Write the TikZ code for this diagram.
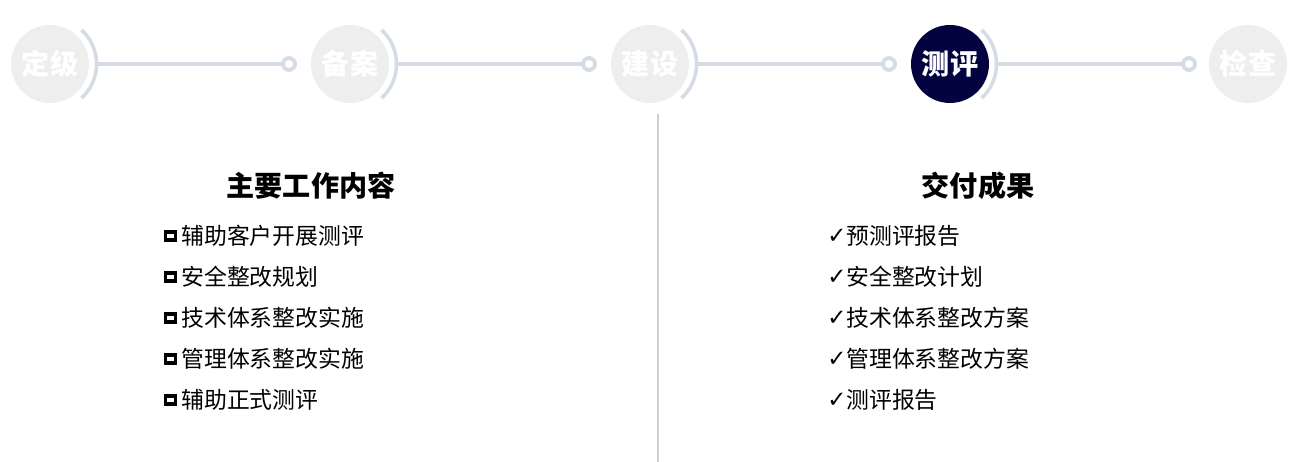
\documentclass[tikz,border=0pt]{standalone}
\usepackage{fontspec}
\newfontfamily\cjk{Noto Sans CJK SC}
\newfontfamily\symfont{DejaVu Sans}
\usepackage{xcolor}
\usetikzlibrary{positioning, calc}
\definecolor{stagegray}{HTML}{EEEEEE}
\definecolor{stagenavy}{HTML}{03033F}
\definecolor{trackblue}{HTML}{D6DCE5}
\definecolor{dividergray}{HTML}{CFCFCF}
\tikzset{
    % Stage circles
    stage/.style={circle, minimum size=1.56cm, inner sep=0pt, fill=stagegray,
                  text=white, font=\cjk\bfseries\fontsize{16}{16}\selectfont},
    current stage/.style={stage, fill=stagenavy},
    % Timeline styles
    stage arc/.style={draw=trackblue, line width=2pt},
    track/.style={draw=trackblue, line width=1.8pt},
    stop dot/.style={circle, draw=trackblue, fill=white, line width=2.2pt,
                     minimum size=0.24cm, inner sep=0pt},
    % Text styles
    heading/.style={font=\cjk\bfseries\fontsize{16}{18}\selectfont},
    item/.style={anchor=west, inner sep=0pt, font=\cjk\fontsize{13}{15}\selectfont},
    tick box/.style={rectangle, draw=black, line width=2.2pt, minimum width=0.2cm,
                     minimum height=0.16cm, inner sep=0pt},
    tick/.style={anchor=west, inner sep=0pt, font=\symfont\fontsize{13}{15}\selectfont},
    divider/.style={draw=dividergray, line width=0.6pt},
}

\begin{document}
\begin{tikzpicture}[x=0.02cm, y=0.02cm]
    \useasboundingbox (0,0) rectangle (1314,-462);

    % Stages along the top
    \foreach \i/\x/\name in {1/50/定级, 2/350/备案, 3/650/建设, 4/950/测评, 5/1248/检查} {
        \ifnum\i=4
            \node[current stage] (stage\i) at (\x,-64) {\name};
        \else
            \node[stage] (stage\i) at (\x,-64) {\name};
        \fi
    }

    % Arcs, tracks and stop dots
    \foreach \i in {1,...,4} {
        \draw[stage arc] ([shift={(-47:0.93cm)}]stage\i.center) arc[start angle=-47, end angle=47, radius=0.93cm];
        \coordinate (arc\i) at ([xshift=0.93cm]stage\i.center);
        \node[stop dot] (dot\i) at ($(stage\i.center)+(239,0)$) {};
        \draw[track] (arc\i) -- (dot\i);
    }

    % Divider
    \coordinate (divtop) at (658,-114);
    \coordinate (divbot) at (658,-462);
    \draw[divider] (divtop) -- (divbot);

    % Headings
    \node[heading] (work) at (311,-186) {主要工作内容};
    \node[heading] (result) at (978,-186) {交付成果};

    % Work items
    \foreach \y/\text in {236/辅助客户开展测评, 277/安全整改规划, 318/技术体系整改实施, 359/管理体系整改实施, 400/辅助正式测评} {
        \node[tick box] (box\y) at (170.5,-\y) {};
        \node[item] (work\y) at (181,-\y) {\text};
    }

    % Deliverables
    \foreach \y/\text in {236/预测评报告, 277/安全整改计划, 318/技术体系整改方案, 359/管理体系整改方案, 400/测评报告} {
        \node[tick] (check\y) at (827,-\y) {✓};
        \node[item] (result\y) at (846,-\y) {\text};
    }
\end{tikzpicture}
\end{document}
